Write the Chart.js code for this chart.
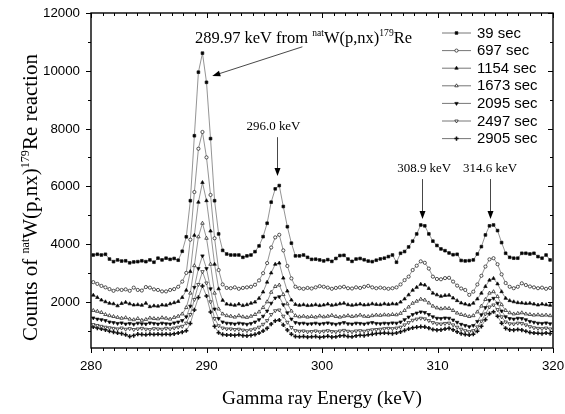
<!DOCTYPE html>
<html><head><meta charset="utf-8">
<script src="https://cdn.jsdelivr.net/npm/chart.js@4/dist/chart.umd.min.js"></script>
<style>html,body{margin:0;padding:0;background:#fff}#wrap{width:565px;height:414px}</style>
</head><body><div id="wrap"><canvas id="c" width="565" height="414"></canvas></div>
<script>
// ---- data ----
const energies = [280.20,280.55,280.90,281.25,281.60,281.95,282.30,282.65,283.00,283.35,283.70,284.05,284.40,284.75,285.10,285.45,285.80,286.15,286.50,286.85,287.20,287.55,
287.90,288.25,288.60,288.95,289.30,289.65,290.00,290.35,290.70,291.05,291.40,291.75,
292.10,292.45,292.80,293.15,293.50,293.85,294.20,294.55,294.90,295.25,295.60,295.95,
296.30,296.65,297.00,297.35,297.70,298.05,298.40,298.75,
299.10,299.45,299.80,300.15,300.50,300.85,301.20,301.55,301.90,302.25,302.60,302.95,303.30,303.65,304.00,304.35,304.70,
305.05,305.40,305.75,306.10,306.45,306.80,307.15,307.50,307.85,308.20,308.55,308.90,309.25,309.60,309.95,310.30,310.65,311.00,311.35,311.70,312.05,312.40,312.75,313.10,313.45,313.80,314.15,314.50,314.85,315.20,315.55,315.90,316.25,316.60,316.95,317.30,317.65,318.00,318.35,318.70,319.05,319.40,319.75];

const seriesNames = ['39 sec','697 sec','1154 sec','1673 sec','2095 sec','2497 sec','2905 sec'];

const counts39 = [3620,3645,3620,3645,3480,3390,3450,3410,3420,3350,3380,3390,3420,3390,3450,3370,3510,3450,3510,3470,3500,3440,
3750,4250,5500,7750,9950,10610,9600,7650,5500,4350,3780,3655,
3620,3620,3620,3540,3590,3620,3735,3935,4255,4720,5450,5910,
6025,5300,4600,4030,3590,3590,3620,3540,
3470,3475,3450,3415,3460,3400,3500,3600,3610,3480,3400,3480,3500,3455,3410,3390,3440,
3485,3510,3565,3620,3370,3680,3740,3900,4100,4350,4660,4630,4350,4100,3950,3830,3770,3690,3630,3645,3430,3415,3425,3450,3655,3910,4315,4630,4660,4465,4050,3680,3540,3510,3510,3680,3680,3655,3680,3565,3510,3620,3450];

const counts697 = [2680,2620,2550,2500,2440,2380,2430,2410,2430,2380,2490,2410,2390,2510,2490,2430,2410,2360,2360,2410,2440,2520,
2700,3000,4150,5800,7300,7880,7000,5700,4200,3100,2600,2480,
2470,2500,2450,2480,2500,2520,2590,2740,2990,3340,3880,4230,
4320,3780,3240,2810,2520,2470,2450,2480,
2460,2500,2540,2520,2490,2450,2480,2500,2520,2470,2460,2500,2480,2520,2550,2500,2470,
2490,2470,2450,2470,2500,2600,2750,2870,3100,3250,3400,3350,3150,2870,2790,2780,2820,2830,2700,2560,2460,2410,2240,2350,2600,2900,3220,3470,3510,3300,2950,2650,2520,2470,2520,2640,2580,2530,2500,2470,2490,2450,2480];

const counts1154 = [2230,2150,2060,2000,1950,1930,1860,1940,1980,1930,1890,1900,1880,1950,1830,1860,1850,1890,1880,1930,1970,2010,
2150,2400,3050,4300,5450,6130,5500,4450,3300,2450,2050,1920,
1900,1880,1920,1870,1900,1950,1990,2120,2340,2680,3000,3300,
3340,2820,2370,2060,1910,1880,1900,1870,
1880,1900,1870,1890,1920,1880,1900,1930,1950,1900,1880,1900,1920,1890,1900,1930,1910,
1900,1930,1910,1930,1920,1990,2100,2240,2400,2500,2610,2580,2460,2300,2240,2190,2220,2230,2130,2040,1960,1920,1890,1950,2100,2300,2530,2750,2810,2620,2350,2120,2040,2000,1970,1960,1940,1950,1920,1890,1920,1900,1880];

const counts1673 = [1700,1670,1630,1560,1520,1490,1460,1430,1450,1400,1380,1420,1360,1390,1440,1420,1410,1450,1430,1400,1460,1500,
1580,1800,2300,3250,4250,4720,4200,3300,2300,1750,1580,1520,
1500,1470,1520,1480,1460,1500,1560,1650,1800,2000,2330,2530,
2580,2250,1930,1680,1520,1480,1500,1470,
1490,1470,1510,1480,1500,1530,1490,1470,1500,1520,1490,1510,1540,1500,1490,1520,1540,
1530,1550,1540,1560,1550,1600,1700,1820,1950,2020,2090,2060,1960,1850,1790,1760,1780,1770,1700,1610,1560,1530,1490,1520,1650,1850,2080,2300,2350,2180,1900,1700,1620,1580,1600,1620,1580,1560,1540,1550,1530,1540,1520];

const counts2095 = [1440,1400,1380,1350,1300,1280,1250,1270,1230,1250,1220,1260,1240,1230,1270,1250,1230,1260,1240,1230,1270,1300,
1350,1480,1850,2500,3150,3590,3150,2450,1750,1420,1300,1260,
1250,1230,1260,1240,1220,1250,1300,1380,1500,1680,1950,2130,
2175,1900,1620,1400,1280,1250,1260,1230,
1240,1260,1230,1250,1270,1240,1220,1250,1280,1240,1230,1260,1250,1230,1260,1280,1250,
1240,1260,1250,1270,1260,1300,1380,1470,1560,1610,1650,1630,1560,1480,1430,1420,1440,1430,1370,1290,1220,1180,1140,1180,1320,1550,1800,2050,2120,1950,1680,1480,1420,1400,1430,1420,1380,1320,1290,1260,1250,1270,1240];

const counts2497 = [1210,1180,1150,1120,1100,1080,1060,1090,1050,1070,1040,1060,1080,1050,1040,1070,1060,1050,1080,1060,1090,1120,
1150,1260,1560,2080,2600,3045,2650,2000,1420,1170,1090,1060,
1060,1040,1050,1020,1000,1030,1060,1120,1220,1350,1560,1690,
1715,1500,1290,1110,1000,980,990,960,
970,990,960,980,1000,970,960,990,1010,980,960,990,1000,980,1010,1030,1040,
1050,1070,1080,1070,1090,1120,1200,1280,1360,1400,1430,1410,1350,1280,1240,1230,1250,1260,1200,1120,1050,1000,965,1000,1130,1330,1580,1820,1890,1730,1480,1300,1240,1230,1260,1250,1200,1140,1100,1080,1070,1090,1060];

const counts2905 = [1130,1090,1060,1030,980,950,920,900,860,800,830,880,870,860,880,870,880,870,880,870,890,920,
950,1000,1250,1720,2150,2550,2200,1650,1150,930,870,850,
850,840,860,830,820,840,870,920,990,1080,1230,1340,
1370,1200,1020,880,800,790,800,780,
790,800,770,790,810,780,790,820,830,800,790,820,840,830,860,880,900,
910,920,910,900,920,960,1010,1060,1100,1120,1140,1130,1090,1040,1020,1030,1060,1080,1030,960,900,870,850,880,980,1150,1380,1590,1655,1500,1260,1080,1030,1020,1040,1020,980,940,920,910,900,920,900];

const xTickValues = [280, 290, 300, 310, 320];
const yTickValues = [2000, 4000, 6000, 8000, 10000, 12000];

// texts (rich: segments with superscripts)
const yTitle = [{t:'Counts of '},{t:'nat',sup:true},{t:'W(p,nx)'},{t:'179',sup:true},{t:'Re reaction'}];
const xTitle = 'Gamma ray Energy (keV)';
const mainNote = [{t:'289.97 keV from '},{t:'nat',sup:true},{t:'W(p,nx)'},{t:'179',sup:true},{t:'Re'}];
const peakNotes = ['296.0 keV','308.9 keV','314.6 keV'];

// ---- annotation anchors (data units) ----
const mainNoteAnchor = {x: 298.4, y: 10960};
const mainArrow = {x0: 298.3, y0: 10830, x1: 290.5, y1: 9820};
const peakAnchors = [
  {tx: 295.8, ty: 7950, ax: 296.13, ay0: 7700, ay1: 6356},
  {tx: 308.85, ty: 6500, ax: 308.68, ay0: 6250, ay1: 4867},
  {tx: 314.55, ty: 6500, ax: 314.55, ay0: 6250, ay1: 4867}
];

const allCounts = [counts39, counts697, counts1154, counts1673, counts2095, counts2497, counts2905];
allCounts.forEach((a,i)=>{ if (a.length !== energies.length) throw new Error(seriesNames[i]+' has '+a.length+' values, expected '+energies.length); });

const styles = [
  {pointStyle:'rect', fill:'#000', r:1.9, rot:0, bw:0.7},
  {pointStyle:'circle', fill:'#fff', r:1.6, rot:0, bw:0.7},
  {pointStyle:'triangle', fill:'#000', r:2.0, rot:0, bw:0.7},
  {pointStyle:'triangle', fill:'#fff', r:2.0, rot:0, bw:0.7},
  {pointStyle:'triangle', fill:'#000', r:2.0, rot:180, bw:0.7},
  {pointStyle:'triangle', fill:'#fff', r:2.0, rot:180, bw:0.7},
  {pointStyle:'cross', fill:'#000', r:2.1, rot:0, bw:1.5}
];
const LINE = '#666';

const datasets = allCounts.map((arr, i) => ({
  label: seriesNames[i],
  data: energies.map((e, j) => ({x: e, y: arr[j]})),
  borderColor: LINE,
  borderWidth: 0.7,
  pointStyle: styles[i].pointStyle,
  pointRadius: styles[i].r,
  pointRotation: styles[i].rot,
  pointBackgroundColor: styles[i].fill,
  pointBorderColor: '#111',
  pointBorderWidth: styles[i].bw,
  tension: 0,
  fill: false
}));

const SERIF = '"Liberation Serif", "Times New Roman", serif';
const SANS = '"Liberation Sans", Arial, sans-serif';

// font size that makes `text` span `target` pixels (widths measured on the reference)
function fitSize(ctx, text, family, target) {
  ctx.font = '100px ' + family;
  return 100 * target / ctx.measureText(text).width;
}
function richWidth(ctx, segs, F) {
  let w = 0;
  segs.forEach(s => { ctx.font = (s.sup ? F*0.58 : F) + 'px ' + SERIF; w += ctx.measureText(s.t).width; });
  return w;
}
function fitRich(ctx, segs, target) { return 100 * target / richWidth(ctx, segs, 100); }
function drawRich(ctx, segs, x, y, F) { // centered at x, baseline y
  let cx = x - richWidth(ctx, segs, F) / 2;
  ctx.textAlign = 'left'; ctx.textBaseline = 'alphabetic';
  segs.forEach(s => {
    const f = s.sup ? F*0.58 : F;
    ctx.font = f + 'px ' + SERIF;
    ctx.fillText(s.t, cx, s.sup ? y - F*0.4 : y);
    cx += ctx.measureText(s.t).width;
  });
}
function arrow(ctx, x0, y0, x1, y1) {
  const a = Math.atan2(y1 - y0, x1 - x0), L = 8, W = 3;
  ctx.beginPath(); ctx.moveTo(x0, y0); ctx.lineTo(x1 - Math.cos(a)*L*0.8, y1 - Math.sin(a)*L*0.8); ctx.stroke();
  ctx.beginPath();
  ctx.moveTo(x1, y1);
  ctx.lineTo(x1 - Math.cos(a)*L + Math.sin(a)*W, y1 - Math.sin(a)*L - Math.cos(a)*W);
  ctx.lineTo(x1 - Math.cos(a)*L - Math.sin(a)*W, y1 - Math.sin(a)*L + Math.cos(a)*W);
  ctx.closePath(); ctx.fill();
}

const decor = {
  id: 'decor',
  afterDraw(chart) {
    const {ctx, chartArea: ca, scales: {x, y}} = chart;
    ctx.save();
    ctx.strokeStyle = '#000'; ctx.fillStyle = '#000';
    // frame
    ctx.lineWidth = 1.4;
    ctx.strokeRect(ca.left, ca.top, ca.right - ca.left, ca.bottom - ca.top);
    // ticks (bottom/left outward, top/right inward; minor every 1 keV / 1000 counts)
    ctx.lineWidth = 1;
    ctx.beginPath();
    for (let v = x.min; v <= x.max + 1e-9; v += 1) {
      const px = Math.round(x.getPixelForValue(v)) + 0.5;
      const major = Math.abs(v % 10) < 1e-9 || Math.abs(v % 10 - 10) < 1e-9;
      const L = major ? 5 : 3;
      ctx.moveTo(px, ca.bottom); ctx.lineTo(px, ca.bottom + L);
      ctx.moveTo(px, ca.top); ctx.lineTo(px, ca.top + L);
    }
    for (let v = 1000; v <= 12000; v += 1000) {
      const py = Math.round(y.getPixelForValue(v)) + 0.5;
      const major = v % 2000 === 0;
      const L = major ? 5 : 3;
      ctx.moveTo(ca.left, py); ctx.lineTo(ca.left - L, py);
      ctx.moveTo(ca.right, py); ctx.lineTo(ca.right - L, py);
    }
    ctx.stroke();

    // tick labels
    const tickSize = fitSize(ctx, '12000', SANS, 37);
    ctx.fillStyle = '#000';
    ctx.font = tickSize + 'px ' + SANS;
    ctx.textAlign = 'center'; ctx.textBaseline = 'middle';
    xTickValues.forEach(v => ctx.fillText(String(v), x.getPixelForValue(v), ca.bottom + 18));
    ctx.textAlign = 'right';
    yTickValues.forEach(v => ctx.fillText(String(v), ca.left - 11, y.getPixelForValue(v) + 0.5));

    // x axis title
    ctx.font = fitSize(ctx, xTitle, SERIF, 200) + 'px ' + SERIF; ctx.textAlign = 'center'; ctx.textBaseline = 'middle';
    ctx.fillText(xTitle, (ca.left + ca.right) / 2, 399);

    // legend
    const legSize = fitSize(ctx, '39 sec', SANS, 44);
    const lx0 = 442, lx1 = 471, ly0 = 33, dy = 17.6;
    chart.data.datasets.forEach((ds, i) => {
      const yy = ly0 + i * dy;
      ctx.strokeStyle = LINE; ctx.lineWidth = 0.9;
      ctx.beginPath(); ctx.moveTo(lx0, yy); ctx.lineTo(lx1, yy); ctx.stroke();
      ctx.save();
      ctx.fillStyle = ds.pointBackgroundColor; ctx.strokeStyle = '#111'; ctx.lineWidth = ds.pointBorderWidth;
      Chart.helpers.drawPoint(ctx, {pointStyle: ds.pointStyle, radius: ds.pointRadius, rotation: ds.pointRotation, borderWidth: ds.pointBorderWidth}, (lx0 + lx1) / 2, yy);
      ctx.restore();
      ctx.fillStyle = '#000';
      ctx.font = legSize + 'px ' + SANS; ctx.textAlign = 'left'; ctx.textBaseline = 'middle';
      ctx.fillText(ds.label, 477, yy + 0.5);
    });

    // y axis title
    ctx.fillStyle = '#000';
    ctx.save();
    ctx.translate(37, (ca.top + ca.bottom) / 2 + 17);
    ctx.rotate(-Math.PI / 2);
    drawRich(ctx, yTitle, 0, 0, fitRich(ctx, yTitle, 287));
    ctx.restore();

    // main annotation
    drawRich(ctx, mainNote, x.getPixelForValue(mainNoteAnchor.x), y.getPixelForValue(mainNoteAnchor.y), fitRich(ctx, mainNote, 217));
    ctx.strokeStyle = '#333'; ctx.fillStyle = '#000'; ctx.lineWidth = 0.9;
    arrow(ctx, x.getPixelForValue(mainArrow.x0), y.getPixelForValue(mainArrow.y0),
               x.getPixelForValue(mainArrow.x1), y.getPixelForValue(mainArrow.y1));
    // peak annotations
    const peakSize = fitSize(ctx, peakNotes[0], SERIF, 54);
    peakAnchors.forEach((p, i) => {
      ctx.fillStyle = '#000';
      ctx.font = peakSize + 'px ' + SERIF; ctx.textAlign = 'center'; ctx.textBaseline = 'alphabetic';
      ctx.fillText(peakNotes[i], x.getPixelForValue(p.tx), y.getPixelForValue(p.ty));
      const ax = Math.round(x.getPixelForValue(p.ax)) + 0.5;
      arrow(ctx, ax, y.getPixelForValue(p.ay0), ax, y.getPixelForValue(p.ay1));
    });
    ctx.restore();
  }
};

new Chart(document.getElementById('c'), {
  type: 'line',
  data: {datasets},
  options: {
    responsive: false,
    devicePixelRatio: 1,
    animation: false,
    events: [],
    layout: {padding: {left: 0, top: 13, right: 12, bottom: 0}},
    plugins: {legend: {display: false}, tooltip: {enabled: false}},
    scales: {
      x: {
        type: 'linear', min: 280, max: 320,
        afterBuildTicks: s => { s.ticks = xTickValues.map(v => ({value: v})); },
        afterFit: s => { s.height = 66; s.paddingLeft = 0; s.paddingRight = 0; },
        grid: {display: false, drawTicks: false},
        border: {display: false},
        ticks: {display: false},
        title: {display: false}
      },
      y: {
        type: 'linear', min: 400, max: 12000,
        afterBuildTicks: s => { s.ticks = yTickValues.map(v => ({value: v})); },
        afterFit: s => { s.width = 91; s.paddingTop = 0; s.paddingBottom = 0; },
        grid: {display: false, drawTicks: false},
        border: {display: false},
        ticks: {display: false}
      }
    }
  },
  plugins: [decor]
});
</script>
</body></html>
